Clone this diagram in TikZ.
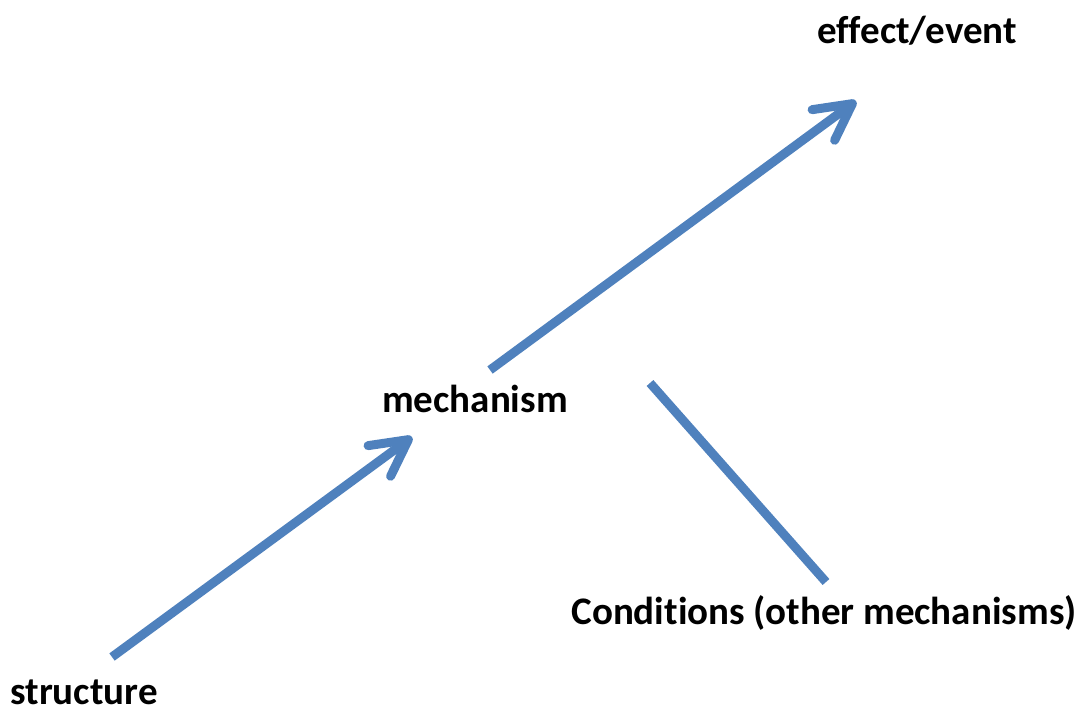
\documentclass[tikz,border=0pt]{standalone}
\usepackage{fontspec}
\setmainfont{Carlito}[Ligatures=NoCommon]
\usepackage{xcolor}
\usetikzlibrary{positioning,arrows.meta}
\definecolor{linkblue}{HTML}{4F81BD}

\begin{document}
\begin{tikzpicture}[
    x=0.2mm, y=-0.2mm,
    every node/.style={font=\fontsize{22.2}{26}\selectfont\bfseries, inner sep=0pt},
    lbl/.style={anchor=base},
    link/.style={draw=linkblue, line width=1.8mm},
    flow/.style={link, -{Straight Barb[length=7.2mm, width=7.6mm, round]}},
  ]
    \useasboundingbox (0,0) rectangle (1084,711);

    \node[lbl] (eff)  at (917,43)  {effect/event};
    \node[lbl] (mech) at (475,412) {mechanism};
    \node[lbl] (str)  at (84,704)  {structure};
    \node[lbl] (cond) at (824,624) {Conditions (other mechanisms)};

    % arrow ends
    \coordinate (s1) at (112,657);
    \coordinate (m1) at (412,437);
    \coordinate (m2) at (490,370);
    \coordinate (e1) at (856,101);
    \coordinate (m3) at (650,383);
    \coordinate (c1) at (826,582);

    \draw[flow] (s1) -- (m1);
    \draw[flow] (m2) -- (e1);
    \draw[link] (m3) -- (c1);
  \end{tikzpicture}
\end{document}
